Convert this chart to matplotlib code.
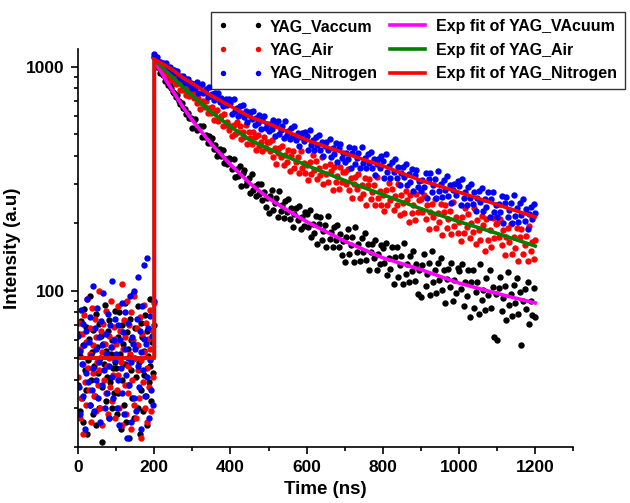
import numpy as np
import matplotlib
matplotlib.use("Agg")
import matplotlib.pyplot as plt
from matplotlib.ticker import MultipleLocator, LogLocator, NullFormatter, FixedLocator

plt.rcParams['font.family'] = 'Liberation Sans'
plt.rcParams['font.weight'] = 'bold'

# time axis of the decay traces (ns)
t_pre = np.arange(0, 200, 2)
t_post = np.arange(200, 1201, 4)

# background before the excitation pulse (0 .. 198 ns, 2 ns channels)
vac_pre = [38, 64, 29, 51, 73, 33, 57, 26, 83, 44, 36, 69, 23, 49, 61, 31, 95, 40, 53, 28,
           67, 46, 34, 79, 25, 56, 43, 71, 30, 50, 63, 37, 21, 58, 47, 86, 32, 54, 41, 66,
           27, 74, 39, 52, 30, 60, 45, 35, 81, 48,
           45, 28, 62, 35, 80, 52, 24, 70, 40, 58, 31, 88, 47, 26, 65, 38, 55, 22, 75, 44,
           60, 33, 97, 50, 27, 68, 41, 57, 30, 85, 48, 23, 72, 36, 62, 29, 54, 42, 78, 34,
           66, 25, 51, 39, 92, 46, 32, 59, 43, 70]
air_pre = [41, 72, 27, 55, 33, 64, 47, 23, 78, 39, 59, 31, 92, 45, 36, 68, 52, 26, 84, 43,
           57, 34, 75, 29, 62, 48, 38, 100, 44, 30, 66, 53, 25, 71, 40, 58, 35, 81, 46, 28,
           63, 50, 37, 90, 32, 56, 42, 69, 27, 61,
           58, 36, 85, 42, 30, 66, 48, 107, 25, 55, 74, 38, 62, 28, 90, 46, 35, 70, 52, 24,
           80, 40, 60, 31, 95, 50, 27, 68, 44, 57, 33, 76, 49, 22, 64, 39, 86, 53, 30, 72,
           45, 26, 61, 37, 82, 55, 29, 67, 41, 88]
nit_pre = [63, 37, 54, 28, 82, 47, 34, 71, 57, 24, 66, 43, 92, 39, 59, 31, 76, 51, 36, 105,
           45, 29, 68, 55, 40, 84, 33, 62, 48, 26, 73, 57, 38, 98, 44, 30, 64, 52, 35, 79,
           46, 27, 70, 56, 41, 110, 33, 60, 49, 75,
           52, 30, 70, 40, 25, 60, 45, 88, 35, 65, 28, 55, 80, 42, 22, 72, 50, 38, 95, 48,
           26, 62, 58, 33, 100, 55, 29, 75, 46, 115, 37, 66, 53, 24, 85, 44, 130, 61, 34, 58,
           140, 41, 68, 27, 77, 49, 36, 63, 31, 90]

# decay after the pulse (200 .. 1200 ns, 4 ns channels)
vac_post = [
    1100, 1050, 1000, 995, 940, 935, 915, 860, 880, 830, 825, 800, 770, 765, 730, 745, 700, 680, 685, 650, 645, 615, 620, 590, 590,
    534, 575, 585, 522, 532, 541, 484, 544, 484, 493, 455, 489, 454, 482, 428, 446, 400, 420, 428, 399, 423, 371, 387, 367, 390,
    385, 350, 387, 322, 348, 325, 359, 294, 334, 346, 295, 307, 319, 273, 331, 281, 293, 264, 298, 271, 299, 254, 274, 236, 260,
    221, 264, 280, 229, 245, 260, 214, 277, 227, 241, 211, 250, 224, 257, 209, 234, 192, 219, 233, 207, 239, 188, 212, 195, 225,
    220, 193, 228, 173, 199, 181, 215, 162, 198, 213, 169, 184, 197, 157, 216, 170, 182, 157, 193, 169, 197, 156, 179, 144, 167,
    134, 173, 188, 145, 159, 174, 134, 192, 148, 162, 136, 172, 149, 180, 137, 161, 124, 149, 162, 140, 169, 124, 146, 131, 159,
    155, 133, 163, 117, 140, 125, 156, 107, 141, 157, 115, 130, 143, 107, 163, 119, 131, 109, 142, 122, 150, 110, 131, 97, 124,
    94, 130, 145, 105, 119, 133, 96, 150, 109, 123, 98, 133, 111, 140, 101, 123, 88, 113, 125, 104, 133, 90, 112, 98, 126,
    122, 102, 131, 85, 109, 95, 123, 76, 109, 124, 84, 99, 109, 79, 131, 91, 101, 82, 114, 96, 123, 84, 104, 62, 97,
    60, 103, 115, 81, 93, 105, 74, 121, 86, 97, 77, 106, 88, 114, 79, 99, 57, 90, 102, 83, 109, 71, 90, 78, 103,
    76]
air_post = [
    1100, 1011, 1058, 999, 1052, 984, 1004, 931, 955, 917, 966, 868, 908, 873, 839, 881, 847, 784, 837, 783, 790, 747, 794, 742, 763,
    771, 722, 770, 687, 721, 649, 686, 702, 658, 702, 619, 650, 619, 660, 577, 625, 639, 573, 587, 602, 542, 614, 549, 563, 523,
    540, 488, 548, 501, 568, 509, 542, 476, 512, 484, 548, 453, 508, 480, 453, 510, 483, 423, 494, 442, 460, 419, 484, 433, 461,
    460, 418, 471, 396, 435, 369, 412, 434, 394, 443, 364, 401, 375, 423, 342, 398, 419, 354, 374, 394, 336, 418, 353, 372, 334,
    362, 312, 375, 330, 401, 344, 379, 315, 354, 327, 395, 299, 358, 332, 306, 368, 342, 281, 357, 305, 326, 285, 356, 305, 337,
    338, 300, 350, 281, 319, 258, 300, 321, 284, 333, 259, 295, 271, 318, 241, 296, 316, 255, 276, 296, 241, 321, 260, 279, 242,
    268, 226, 280, 242, 302, 254, 284, 229, 263, 241, 299, 217, 268, 246, 223, 277, 254, 202, 268, 223, 241, 207, 269, 225, 254,
    256, 224, 268, 208, 241, 189, 225, 244, 213, 255, 190, 222, 202, 243, 177, 225, 242, 190, 208, 226, 178, 249, 195, 212, 180,
    203, 166, 214, 181, 234, 192, 219, 171, 201, 182, 233, 161, 206, 187, 168, 215, 196, 150, 209, 169, 187, 157, 211, 172, 198,
    200, 173, 209, 160, 187, 144, 174, 190, 164, 198, 146, 173, 155, 190, 135, 174, 189, 146, 160, 176, 136, 194, 150, 165, 139,
    168]
nit_post = [
    1140, 1034, 1098, 1035, 1045, 1005, 1042, 1005, 1034, 973, 993, 939, 961, 967, 931, 956, 892, 909, 882, 907, 845, 876, 882, 832, 842,
    802, 836, 803, 850, 761, 815, 832, 761, 778, 794, 730, 810, 739, 754, 710, 760, 721, 762, 695, 724, 665, 698, 713, 676, 714,
    688, 614, 715, 632, 654, 604, 666, 621, 673, 594, 632, 563, 605, 625, 583, 633, 551, 588, 560, 608, 524, 580, 600, 534, 554,
    515, 555, 526, 579, 489, 550, 572, 500, 523, 544, 478, 570, 497, 517, 474, 531, 491, 540, 468, 505, 443, 483, 503, 466, 512,
    491, 426, 519, 446, 468, 425, 484, 445, 495, 424, 461, 399, 441, 462, 424, 473, 396, 433, 408, 455, 376, 431, 452, 390, 410,
    373, 412, 386, 436, 354, 412, 434, 368, 390, 412, 351, 438, 371, 392, 351, 407, 370, 417, 352, 387, 329, 368, 388, 353, 398,
    380, 319, 407, 338, 360, 319, 375, 338, 386, 319, 355, 297, 336, 356, 321, 366, 296, 330, 306, 350, 278, 328, 347, 290, 309,
    277, 313, 289, 335, 260, 314, 334, 275, 295, 315, 260, 340, 279, 298, 262, 313, 280, 324, 264, 297, 245, 280, 299, 268, 309,
    292, 241, 314, 258, 276, 242, 289, 260, 299, 244, 275, 226, 259, 277, 248, 286, 227, 256, 237, 274, 213, 257, 274, 225, 241,
    214, 244, 224, 263, 200, 245, 262, 213, 230, 247, 201, 268, 216, 233, 202, 245, 218, 255, 205, 232, 189, 219, 235, 208, 243,
    222]

# exponential fit curves
t_fit = [0, 200, 200, 225, 250, 275, 300, 350, 400, 450, 500, 550, 600, 700, 800, 900, 1000, 1100, 1200]
vac_fit = [50, 50, 1075, 900, 770, 660, 575, 450, 365, 302, 258, 228, 203, 166, 140, 124, 108, 97, 88]
air_fit = [50, 50, 1075, 975, 890, 810, 740, 625, 540, 471, 430, 395, 362, 310, 268, 232, 203, 180, 158]
nit_fit = [50, 50, 1075, 1020, 960, 890, 840, 740, 665, 597, 555, 512, 470, 410, 360, 310, 275, 242, 213]

t_all = np.concatenate([t_pre, t_post])

fig = plt.figure(figsize=(6.3, 5.03), dpi=100)
ax = fig.add_axes([0.124, 0.111, 0.786, 0.792])

ms = 4.6
ax.plot(t_all, vac_pre + vac_post, 'o', color='black', ms=ms, mew=0, label='YAG_Vaccum')
ax.plot(t_all, air_pre + air_post, 'o', color='#ff0000', ms=ms, mew=0, label='YAG_Air')
ax.plot(t_all, nit_pre + nit_post, 'o', color='#0000ff', ms=ms, mew=0, label='YAG_Nitrogen')

ax.plot(t_fit, vac_fit, color='#ff00ff', lw=2.6, label='Exp fit of YAG_VAcuum')
ax.plot(t_fit, air_fit, color='#008000', lw=2.6, label='Exp fit of YAG_Air')
ax.plot(t_fit, nit_fit, color='#ff0000', lw=2.6, label='Exp fit of YAG_Nitrogen')

ax.set_yscale('log')
ax.set_xlim(0, 1300)
ax.set_ylim(20, 1200)
ax.xaxis.set_major_locator(FixedLocator([0, 200, 400, 600, 800, 1000, 1200]))
ax.xaxis.set_minor_locator(MultipleLocator(100))
ax.yaxis.set_major_locator(FixedLocator([100, 1000]))
ax.yaxis.set_minor_locator(LogLocator(base=10, subs=np.arange(2, 10)))
ax.yaxis.set_minor_formatter(NullFormatter())
ax.set_yticklabels(['100', '1000'])

for s in ['top', 'right']:
    ax.spines[s].set_visible(False)
for s in ['left', 'bottom']:
    ax.spines[s].set_linewidth(1.2)
ax.tick_params(which='both', direction='out', width=1.2, labelsize=12.5)
ax.tick_params(which='major', length=5, pad=4.5)
ax.tick_params(which='minor', length=3)

ax.set_xlabel('Time (ns)', fontsize=13.5, fontweight='bold', labelpad=4)
ax.set_ylabel('Intensity (a.u)', fontsize=13.5, fontweight='bold', labelpad=4)

leg = fig.legend(loc='upper left', bbox_to_anchor=(0.335, 0.977), ncol=2, numpoints=2,
                 fontsize=11.5, markerscale=0.85, frameon=True, fancybox=False, edgecolor='black',
                 handlelength=2.8, handletextpad=0.4, columnspacing=0.5,
                 labelspacing=0.55, borderpad=0.45, borderaxespad=0)
leg.get_frame().set_linewidth(1.0)

fig.savefig('out.png', dpi=100)
